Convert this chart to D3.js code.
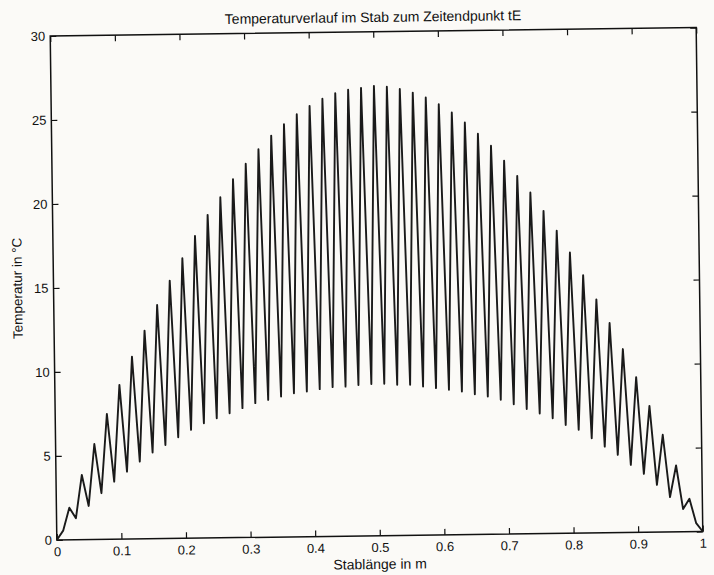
<!DOCTYPE html>
<html>
<head>
<meta charset="utf-8">
<script src="https://cdn.jsdelivr.net/npm/d3@7"></script>
<style>
    body { margin: 0; background: #fbfaf7; }
    svg text { font-family: "Liberation Sans", Arial, sans-serif; fill: #111; }
</style>
</head>
<body>
<div id="chart"></div>
<script>
// Stablänge in m (Gitterpunkte)
const stablaenge = [
    0, 0.01, 0.02, 0.03, 0.04, 0.05, 0.06, 0.07, 0.08, 0.09,
    0.10, 0.11, 0.12, 0.13, 0.14, 0.15, 0.16, 0.17, 0.18, 0.19,
    0.20, 0.21, 0.22, 0.23, 0.24, 0.25, 0.26, 0.27, 0.28, 0.29,
    0.30, 0.31, 0.32, 0.33, 0.34, 0.35, 0.36, 0.37, 0.38, 0.39,
    0.40, 0.41, 0.42, 0.43, 0.44, 0.45, 0.46, 0.47, 0.48, 0.49,
    0.50, 0.51, 0.52, 0.53, 0.54, 0.55, 0.56, 0.57, 0.58, 0.59,
    0.60, 0.61, 0.62, 0.63, 0.64, 0.65, 0.66, 0.67, 0.68, 0.69,
    0.70, 0.71, 0.72, 0.73, 0.74, 0.75, 0.76, 0.77, 0.78, 0.79,
    0.80, 0.81, 0.82, 0.83, 0.84, 0.85, 0.86, 0.87, 0.88, 0.89,
    0.90, 0.91, 0.92, 0.93, 0.94, 0.95, 0.96, 0.97, 0.98, 0.99,
    1.00
];

// Temperatur in °C zum Zeitpunkt tE
const temperatur = [
    0, 0.55, 1.91, 1.28, 3.85, 2.00, 5.68, 2.75, 7.46, 3.43,
    9.18, 4.01, 10.85, 4.60, 12.39, 5.13, 13.91, 5.57, 15.35, 6.02,
    16.67, 6.45, 17.99, 6.83, 19.23, 7.12, 20.27, 7.41, 21.34, 7.70,
    22.24, 7.99, 23.10, 8.17, 23.90, 8.36, 24.57, 8.55, 25.15, 8.64,
    25.64, 8.77, 26.05, 8.88, 26.38, 8.90, 26.57, 8.99, 26.67, 9.04,
    26.78, 9.04, 26.72, 8.97, 26.57, 8.96, 26.35, 8.85, 26.05, 8.74,
    25.64, 8.63, 25.13, 8.52, 24.53, 8.35, 23.85, 8.20, 23.12, 8.00,
    22.23, 7.72, 21.31, 7.43, 20.31, 7.15, 19.21, 6.86, 18.02, 6.45,
    16.71, 6.15, 15.35, 5.64, 13.90, 5.13, 12.48, 4.63, 10.92, 4.02,
    9.24, 3.48, 7.52, 2.81, 5.79, 2.07, 3.95, 1.35, 1.96, 0.50,
    0
];

const xTicks = [0, 0.1, 0.2, 0.3, 0.4, 0.5, 0.6, 0.7, 0.8, 0.9, 1];
const xTickLabels = ['0', '0.1', '0.2', '0.3', '0.4', '0.5', '0.6', '0.7', '0.8', '0.9', '1'];
const yTicks = [0, 5, 10, 15, 20, 25, 30];

const titel = 'Temperaturverlauf im Stab zum Zeitendpunkt tE';
const xLabel = 'Stablänge in m';
const yLabel = 'Temperatur in °C';

const width = 714;
const height = 575;
const margin = { top: 31.75, left: 53.5, right: 14.5, bottom: 39.25 };
const innerW = width - margin.left - margin.right;
const innerH = height - margin.top - margin.bottom;

const x = d3.scaleLinear().domain([0, 1]).range([0, innerW]);
const y = d3.scaleLinear().domain([0, 30]).range([innerH, 0]);

const svg = d3.select('#chart')
    .append('svg')
    .attr('width', width)
    .attr('height', height);

// the scanned page sits slightly tilted
const cx = margin.left + innerW / 2;
const cy = margin.top + innerH / 2;
const page = svg.append('g')
    .attr('transform', `rotate(-0.75, ${cx}, ${cy})`);

const plot = page.append('g')
    .attr('transform', `translate(${margin.left}, ${margin.top})`);

const styleAxis = g => {
    g.select('.domain').remove();
    g.selectAll('line').attr('stroke', '#111').attr('stroke-width', 1.2);
    g.selectAll('text').attr('font-size', '13px').attr('fill', '#111');
};

plot.append('g')
    .attr('transform', `translate(0, ${innerH})`)
    .call(d3.axisBottom(x).tickValues(xTicks).tickSizeInner(-6).tickSizeOuter(0)
        .tickPadding(7).tickFormat((d, i) => xTickLabels[i]))
    .call(styleAxis);

plot.append('g')
    .call(d3.axisTop(x).tickValues(xTicks).tickSizeInner(-6).tickSizeOuter(0).tickFormat(''))
    .call(styleAxis);

plot.append('g')
    .call(d3.axisLeft(y).tickValues(yTicks).tickSizeInner(-6).tickSizeOuter(0).tickPadding(5))
    .call(styleAxis);

plot.append('g')
    .attr('transform', `translate(${innerW}, 0)`)
    .call(d3.axisRight(y).tickValues(yTicks).tickSizeInner(-6).tickSizeOuter(0).tickFormat(''))
    .call(styleAxis);

plot.append('rect')
    .attr('width', innerW)
    .attr('height', innerH)
    .attr('fill', 'none')
    .attr('stroke', '#111')
    .attr('stroke-width', 1.5);

const line = d3.line()
    .x((d, i) => x(stablaenge[i]))
    .y(d => y(d));

plot.append('path')
    .datum(temperatur)
    .attr('d', line)
    .attr('fill', 'none')
    .attr('stroke', '#1a1a1a')
    .attr('stroke-width', 1.9)
    .attr('stroke-linejoin', 'round');

page.append('text')
    .attr('x', cx)
    .attr('y', 22)
    .attr('text-anchor', 'middle')
    .attr('font-size', '14px')
    .text(titel);

page.append('text')
    .attr('x', cx)
    .attr('y', 569)
    .attr('text-anchor', 'middle')
    .attr('font-size', '14px')
    .text(xLabel);

page.append('text')
    .attr('transform', `translate(22, ${cy}) rotate(-90)`)
    .attr('text-anchor', 'middle')
    .attr('font-size', '13.5px')
    .text(yLabel);
</script>
</body>
</html>
